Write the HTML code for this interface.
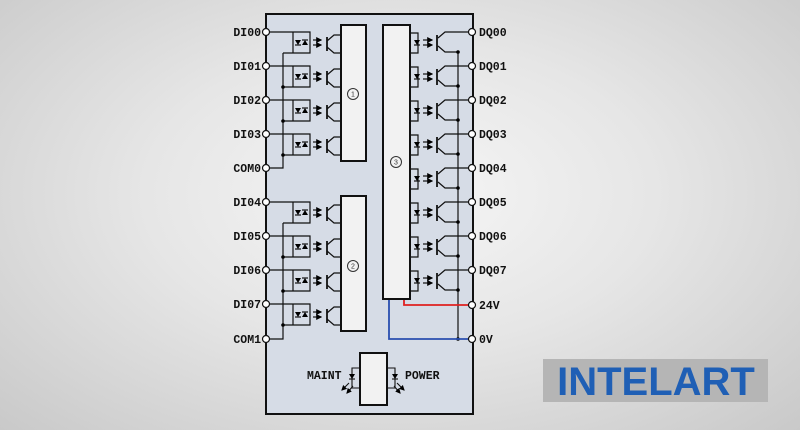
<!DOCTYPE html>
<html><head><meta charset="utf-8"><style>
html,body{margin:0;padding:0;width:800px;height:430px;overflow:hidden;}
body{background:radial-gradient(ellipse at 50% 45%,#f6f6f6 0%,#e6e6e6 45%,#c9c9c9 100%);}
svg{position:absolute;left:0;top:0;}
text{font-family:"Liberation Mono",monospace;font-weight:bold;font-size:11.5px;fill:#111;}
</style></head><body>
<svg width="800" height="430" viewBox="0 0 800 430">
<defs>
<marker id="ah" markerWidth="5" markerHeight="5" refX="4" refY="2.5" orient="auto"><path d="M0,0 L5,2.5 L0,5z" fill="#000"/></marker>
<g id="inch" fill="none" stroke="#111" stroke-width="1.2">
<path d="M266,0 H310 V21 H283"/>
<path d="M293,0 V21"/>
<polygon points="295,8 301,8 298,13" fill="#000" stroke="none"/>
<path d="M295,13 H301"/>
<polygon points="302,13 308,13 305,8" fill="#000" stroke="none"/>
<path d="M302,8 H308"/>
<path d="M313,8 H321" marker-end="url(#ah)"/>
<path d="M313,13 H321" marker-end="url(#ah)"/>
<path d="M327,5 V19" stroke-width="1.8"/>
<path d="M327,9 L334,3 H341 M327,15 L334,21 H341"/>
</g>
<g id="outch" fill="none" stroke="#111" stroke-width="1.2">
<path d="M472,0 H445 L438,6"/>
<path d="M437,3 V19" stroke-width="1.8"/>
<path d="M438,14 L445,20 H458"/>
<path d="M410,1 H418 V21 H410"/>
<polygon points="414,8 420,8 417,13" fill="#000" stroke="none"/>
<path d="M414,13 H420"/>
<path d="M423,8 H432" marker-end="url(#ah)"/>
<path d="M423,13 H432" marker-end="url(#ah)"/>
<circle cx="458" cy="20" r="1.8" fill="#000" stroke="none"/>
</g>
</defs>
<rect x="266" y="14" width="207" height="400" fill="#d6dce6" stroke="#111" stroke-width="2"/>
<use href="#inch" transform="translate(0,32)"/>
<use href="#inch" transform="translate(0,66)"/>
<use href="#inch" transform="translate(0,100)"/>
<use href="#inch" transform="translate(0,134)"/>
<use href="#inch" transform="translate(0,202)"/>
<use href="#inch" transform="translate(0,236)"/>
<use href="#inch" transform="translate(0,270)"/>
<use href="#inch" transform="translate(0,304)"/>
<g stroke="#111" stroke-width="1.2" fill="none">
<path d="M283,53 V168 H266"/>
<path d="M283,223 V339 H266"/>
<path d="M458,52 V339"/>
</g>
<g fill="#000">
<circle cx="283" cy="87" r="1.8"/><circle cx="283" cy="121" r="1.8"/><circle cx="283" cy="155" r="1.8"/>
<circle cx="283" cy="257" r="1.8"/><circle cx="283" cy="291" r="1.8"/><circle cx="283" cy="325" r="1.8"/>
<circle cx="458" cy="339" r="1.8"/>
</g>
<use href="#outch" transform="translate(0,32)"/>
<use href="#outch" transform="translate(0,66)"/>
<use href="#outch" transform="translate(0,100)"/>
<use href="#outch" transform="translate(0,134)"/>
<use href="#outch" transform="translate(0,168)"/>
<use href="#outch" transform="translate(0,202)"/>
<use href="#outch" transform="translate(0,236)"/>
<use href="#outch" transform="translate(0,270)"/>
<path d="M404,299 V305 H472" stroke="#e02020" stroke-width="1.8" fill="none"/>
<path d="M389,299 V339 H472" stroke="#2a4fb0" stroke-width="1.8" fill="none"/>
<rect x="341" y="25" width="25" height="136" fill="#f2f2f2" stroke="#111" stroke-width="2"/>
<rect x="341" y="196" width="25" height="135" fill="#f2f2f2" stroke="#111" stroke-width="2"/>
<rect x="383" y="25" width="27" height="274" fill="#f2f2f2" stroke="#111" stroke-width="2"/>
<rect x="360" y="353" width="27" height="52" fill="#f2f2f2" stroke="#111" stroke-width="2"/>
<g fill="none" stroke="#333" stroke-width="1">
<circle cx="353" cy="94" r="5.5"/><circle cx="353" cy="266" r="5.5"/><circle cx="396" cy="162" r="5.5"/>
</g>
<g text-anchor="middle">
<text x="353" y="96.5" style="font-size:7px;font-weight:normal;font-family:'Liberation Sans',sans-serif;fill:#333">1</text>
<text x="353" y="268.5" style="font-size:7px;font-weight:normal;font-family:'Liberation Sans',sans-serif;fill:#333">2</text>
<text x="396" y="164.5" style="font-size:7px;font-weight:normal;font-family:'Liberation Sans',sans-serif;fill:#333">3</text>
</g>
<g stroke="#111" stroke-width="1.1" fill="none">
<path d="M360,368 H352 V388 H360"/>
<polygon points="349,374 355,374 352,379" fill="#000" stroke="none"/>
<path d="M349,379 H355"/>
<path d="M349,383 L342,390" marker-end="url(#ah)"/><path d="M353,386 L347,393" marker-end="url(#ah)"/>
<path d="M387,368 H395 V388 H387"/>
<polygon points="392,374 398,374 395,379" fill="#000" stroke="none"/>
<path d="M392,379 H398"/>
<path d="M397,383 L404,390" marker-end="url(#ah)"/><path d="M394,386 L400,393" marker-end="url(#ah)"/>
</g>
<text x="307" y="379">MAINT</text>
<text x="405" y="379">POWER</text>
<g fill="#fff" stroke="#111" stroke-width="1.2">
<circle cx="266" cy="32" r="3.5"/><circle cx="266" cy="66" r="3.5"/><circle cx="266" cy="100" r="3.5"/><circle cx="266" cy="134" r="3.5"/><circle cx="266" cy="168" r="3.5"/>
<circle cx="266" cy="202" r="3.5"/><circle cx="266" cy="236" r="3.5"/><circle cx="266" cy="270" r="3.5"/><circle cx="266" cy="304" r="3.5"/><circle cx="266" cy="339" r="3.5"/>
<circle cx="472" cy="32" r="3.5"/><circle cx="472" cy="66" r="3.5"/><circle cx="472" cy="100" r="3.5"/><circle cx="472" cy="134" r="3.5"/><circle cx="472" cy="168" r="3.5"/>
<circle cx="472" cy="202" r="3.5"/><circle cx="472" cy="236" r="3.5"/><circle cx="472" cy="270" r="3.5"/><circle cx="472" cy="305" r="3.5"/><circle cx="472" cy="339" r="3.5"/>
</g>
<g text-anchor="end">
<text x="261" y="36">DI00</text><text x="261" y="70">DI01</text><text x="261" y="104">DI02</text><text x="261" y="138">DI03</text><text x="261" y="172">COM0</text>
<text x="261" y="206">DI04</text><text x="261" y="240">DI05</text><text x="261" y="274">DI06</text><text x="261" y="308">DI07</text><text x="261" y="343">COM1</text>
</g>
<g>
<text x="479" y="36">DQ00</text><text x="479" y="70">DQ01</text><text x="479" y="104">DQ02</text><text x="479" y="138">DQ03</text><text x="479" y="172">DQ04</text>
<text x="479" y="206">DQ05</text><text x="479" y="240">DQ06</text><text x="479" y="274">DQ07</text><text x="479" y="309">24V</text><text x="479" y="343">0V</text>
</g>
<rect x="543" y="359" width="225" height="43" fill="#b5b5b5"/>
<text x="656" y="395" text-anchor="middle" style="font-family:'Liberation Sans',sans-serif;font-weight:bold;font-size:40px;fill:#1f5fb5;">INTELART</text>
</svg>
</body></html>
